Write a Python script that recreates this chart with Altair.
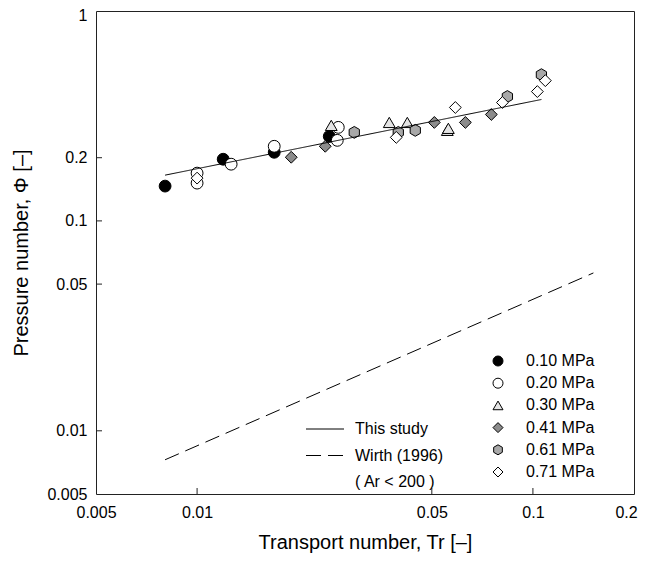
import altair as alt
import pandas as pd

# ---- data ----
p010_x = [0.00803, 0.01196, 0.01697, 0.02475]
p010_y = [0.1465, 0.1967, 0.2123, 0.2528]

p020_x = [0.0100, 0.0100, 0.01263, 0.01697, 0.02633, 0.02615]
p020_y = [0.1689, 0.1514, 0.1863, 0.2267, 0.2790, 0.2420]

p030_x = [0.02509, 0.03735, 0.04227, 0.0556, 0.0560]
p030_y = [0.2851, 0.2945, 0.2945, 0.2700, 0.2760]

p041_x = [0.01907, 0.02408, 0.05087, 0.06294, 0.0752]
p041_y = [0.2010, 0.2267, 0.2945, 0.2945, 0.3214]

p061_x = [0.02938, 0.03973, 0.04464, 0.08395, 0.1060]
p061_y = [0.2641, 0.2641, 0.2700, 0.3914, 0.4973]

p071_x = [0.0100, 0.03919, 0.05875, 0.08114, 0.1031, 0.1089]
p071_y = [0.1599, 0.2500, 0.3470, 0.3664, 0.4132, 0.4658]

fit_x = [0.00803, 0.1060]
fit_y = [0.1652, 0.3788]
wirth_x = [0.00803, 0.1514]
wirth_y = [0.00728, 0.0565]

series_names = ["0.10 MPa", "0.20 MPa", "0.30 MPa", "0.41 MPa", "0.61 MPa", "0.71 MPa"]
series_shapes = ["circle", "circle", "triangle-up", "diamond",
                 "M0,-1L0.866,-0.5L0.866,0.5L0,1L-0.866,0.5L-0.866,-0.5Z", "diamond"]
series_fills = ["#000000", "#ffffff", "#e4e4e4", "#8c8c8c", "#a8a8a8", "#ffffff"]
series_strokes = ["#000000"] * 6

line_names = ["This study", "Wirth (1996)", "( Ar < 200 )"]
line_dashes = [[1, 0], [15, 7], [0, 1000]]

x_tick_vals = [0.005, 0.01, 0.05, 0.1, 0.2]
y_tick_vals = [0.005, 0.01, 0.05, 0.1, 0.2, 1]
x_inner_ticks = [0.01, 0.05, 0.1]
y_inner_ticks = [0.01, 0.05, 0.1, 0.2]

# ---- tables ----
rows = []
for name, xs, ys in zip(series_names,
                        [p010_x, p020_x, p030_x, p041_x, p061_x, p071_x],
                        [p010_y, p020_y, p030_y, p041_y, p061_y, p071_y]):
    for a, b in zip(xs, ys):
        rows.append({"Tr": a, "Phi": b, "P": name})
pts = pd.DataFrame(rows)

lines = pd.DataFrame(
    [{"Tr": a, "Phi": b, "L": "This study", "o": i} for i, (a, b) in enumerate(zip(fit_x, fit_y))]
    + [{"Tr": a, "Phi": b, "L": "Wirth (1996)", "o": i} for i, (a, b) in enumerate(zip(wirth_x, wirth_y))]
)
xt = pd.DataFrame({"v": x_inner_ticks})
yt = pd.DataFrame({"v": y_inner_ticks})

W, H = 538, 483
FONT = "Liberation Sans"

xscale = alt.Scale(type="log", domain=[0.005, 0.2], nice=False)
yscale = alt.Scale(type="log", domain=[0.005, 1], nice=False)

xaxis = alt.Axis(values=x_tick_vals, labelExpr="format(datum.value, '~g')",
                 labelOffset={"condition": {"test": "datum.value >= 0.2", "value": -8}, "value": 0},
                 title="Transport number, Tr [\u2013]", grid=False, ticks=False, domain=False,
                 labelFlush=False, labelOverlap=False, labelPadding=10, labelFontSize=16,
                 titleFontSize=20, titleFontWeight="normal", titlePadding=12,
                 labelColor="#000", titleColor="#000", labelFont=FONT, titleFont=FONT)
yaxis = alt.Axis(values=y_tick_vals,
                 labelExpr="format(datum.value, '~g')",
                 labelOffset={"condition": {"test": "datum.value >= 1", "value": 4}, "value": 0},
                 title="Pressure number, \u03a6 [\u2013]", grid=False, ticks=False, domain=False,
                 labelFlush=False, labelOverlap=False, labelPadding=9, labelFontSize=16,
                 titleFontSize=20, titleFontWeight="normal", titlePadding=15,
                 labelColor="#000", titleColor="#000", labelFont=FONT, titleFont=FONT)

pt_legend = alt.Legend(title=None, orient="none", legendX=394, legendY=342,
                       symbolSize=100, symbolStrokeColor="#000", symbolStrokeWidth=1,
                       labelFontSize=16, labelFont=FONT, labelColor="#000",
                       labelOffset=20, rowPadding=6.2, padding=0)

line_legend = alt.Legend(title=None, orient="none", legendX=221, legendY=410,
                         symbolType="M-3.8,0H3.8", symbolSize=100, symbolStrokeColor="#000",
                         symbolStrokeWidth=1, symbolFillColor="transparent",
                         labelFontSize=16, labelFont=FONT, labelColor="#000",
                         labelOffset=22, rowPadding=10.5, padding=0)

line_layer = alt.Chart(lines).mark_line(color="#000", strokeWidth=1).encode(
    x=alt.X("Tr:Q", scale=xscale, axis=xaxis),
    y=alt.Y("Phi:Q", scale=yscale, axis=yaxis),
    strokeDash=alt.StrokeDash("L:N", scale=alt.Scale(domain=line_names, range=line_dashes),
                              legend=line_legend),
    order="o:Q",
)

point_layer = alt.Chart(pts).mark_point(filled=True, strokeWidth=1, opacity=1).encode(
    x=alt.X("Tr:Q", scale=xscale),
    y=alt.Y("Phi:Q", scale=yscale),
    shape=alt.Shape("P:N", scale=alt.Scale(domain=series_names, range=series_shapes), legend=pt_legend),
    fill=alt.Fill("P:N", scale=alt.Scale(domain=series_names, range=series_fills), legend=pt_legend),
    stroke=alt.Stroke("P:N", scale=alt.Scale(domain=series_names, range=series_strokes), legend=pt_legend),
    size=alt.value(140),
)

xtick_layer = alt.Chart(xt).mark_rule(color="#222", strokeWidth=1).encode(
    x=alt.X("v:Q", scale=xscale), y=alt.value(H), y2=alt.value(H - 6))
ytick_layer = alt.Chart(yt).mark_rule(color="#222", strokeWidth=1).encode(
    y=alt.Y("v:Q", scale=yscale), x=alt.value(0), x2=alt.value(6))

chart = alt.layer(point_layer, line_layer, xtick_layer, ytick_layer).properties(
    width=W, height=H,
    autosize=alt.AutoSizeParams(type="none"),
    padding={"left": 88, "top": 3, "right": 5, "bottom": 60},
    background="#ffffff",
).configure_view(stroke="#222", strokeWidth=1).configure_legend(padding=0)

chart.save("out.html", embed_options={"renderer": "svg", "actions": False})
